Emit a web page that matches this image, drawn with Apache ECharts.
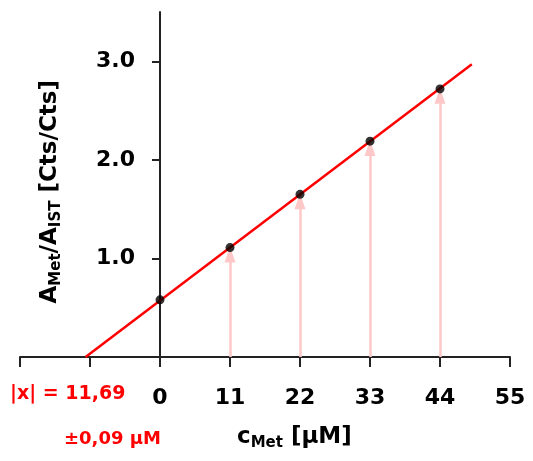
<!DOCTYPE html>
<html>
<head>
<meta charset="utf-8">
<script src="https://cdn.jsdelivr.net/npm/echarts@6/dist/echarts.min.js"></script>
<style>
html, body { margin: 0; padding: 0; background: #fff; }
#chart { width: 533px; height: 461px; }
</style>
</head>
<body>
<div id="chart"></div>
<script>
// calibration points
var concentrations = [0, 11, 22, 33, 44];
var ratios = [0.58, 1.11, 1.65, 2.19, 2.72];
// regression line end points
var fitLine = [[-11.69, 0], [49, 2.97]];
var xTicks = [-22, -11, 0, 11, 22, 33, 44, 55];
var xLabels = [0, 11, 22, 33, 44, 55];
var yLabels = [1, 2, 3];

var font = 'DejaVu Sans';
var chart = echarts.init(document.getElementById('chart'));

// arrows from the axis up to each standard point
var arrows = [];
for (var i = 1; i < concentrations.length; i++) {
    arrows.push([{ coord: [concentrations[i], 0] }, { coord: [concentrations[i], ratios[i] - 0.07] }]);
}

var options = {
    animation: false,
    grid: { left: 20, right: 23, top: 12, bottom: 104, containLabel: false, outerBoundsMode: 'none' },
    xAxis: {
        type: 'value',
        min: -22,
        max: 55,
        interval: 11,
        splitLine: { show: false },
        axisLine: { onZero: false, lineStyle: { color: '#222', width: 2 } },
        axisTick: { show: true, length: 10, customValues: xTicks, lineStyle: { color: '#222', width: 2 } },
        axisLabel: {
            customValues: xLabels,
            margin: 30,
            color: '#000',
            fontFamily: font,
            fontWeight: 'bold',
            fontSize: 22
        }
    },
    yAxis: {
        type: 'value',
        min: 0,
        max: 3.5,
        interval: 1,
        offset: -140,
        splitLine: { show: false },
        axisLine: { onZero: false, lineStyle: { color: '#222', width: 2 } },
        axisTick: { show: true, length: 8, customValues: yLabels, lineStyle: { color: '#222', width: 2 } },
        axisLabel: {
            customValues: yLabels,
            margin: 25,
            color: '#000',
            fontFamily: font,
            fontWeight: 'bold',
            fontSize: 22,
            formatter: function (v) { return v.toFixed(1); }
        }
    },
    graphic: [
        {
            type: 'text',
            left: 39,
            top: 80,
            rotation: Math.PI / 2,
            style: {
                text: '{b|A}{s|Met}{b|/A}{s|IST}{b| [Cts/Cts]}',
                rich: {
                    b: { fontFamily: font, fontWeight: 'bold', fontSize: 23, fill: '#000' },
                    s: { fontFamily: font, fontWeight: 'bold', fontSize: 15, fill: '#000', padding: [12, 0, 0, 0] }
                }
            }
        },
        {
            type: 'text',
            left: 237,
            top: 426,
            style: {
                text: '{b|c}{s|Met}{b| [µM]}',
                rich: {
                    b: { fontFamily: font, fontWeight: 'bold', fontSize: 23, fill: '#000' },
                    s: { fontFamily: font, fontWeight: 'bold', fontSize: 15, fill: '#000', padding: [12, 0, 0, 0] }
                }
            }
        },
        {
            type: 'text',
            left: 10,
            top: 385,
            style: { text: '|x| = 11,69', fontFamily: font, fontWeight: 'bold', fontSize: 19, fill: '#ff0000' }
        },
        {
            type: 'text',
            left: 64,
            top: 430,
            style: { text: '±0,09 µM', fontFamily: font, fontWeight: 'bold', fontSize: 18, fill: '#ff0000' }
        }
    ],
    series: [
        {
            type: 'line',
            data: [],
            silent: true,
            markLine: {
                silent: true,
                z: 1,
                symbol: ['none', 'triangle'],
                symbolSize: [11, 16],
                label: { show: false },
                lineStyle: { color: '#ffc8c8', width: 2.5, type: 'solid' },
                itemStyle: { color: '#ffc8c8' },
                data: arrows
            },
            z: 1
        },
        {
            type: 'line',
            data: fitLine,
            symbol: 'none',
            lineStyle: { color: '#ff0000', width: 2.5 },
            z: 2
        },
        {
            type: 'scatter',
            data: concentrations.map(function (c, i) { return [c, ratios[i]]; }),
            symbolSize: 9,
            itemStyle: { color: '#000' },
            z: 3
        }
    ]
};

chart.setOption(options);
</script>
</body>
</html>
